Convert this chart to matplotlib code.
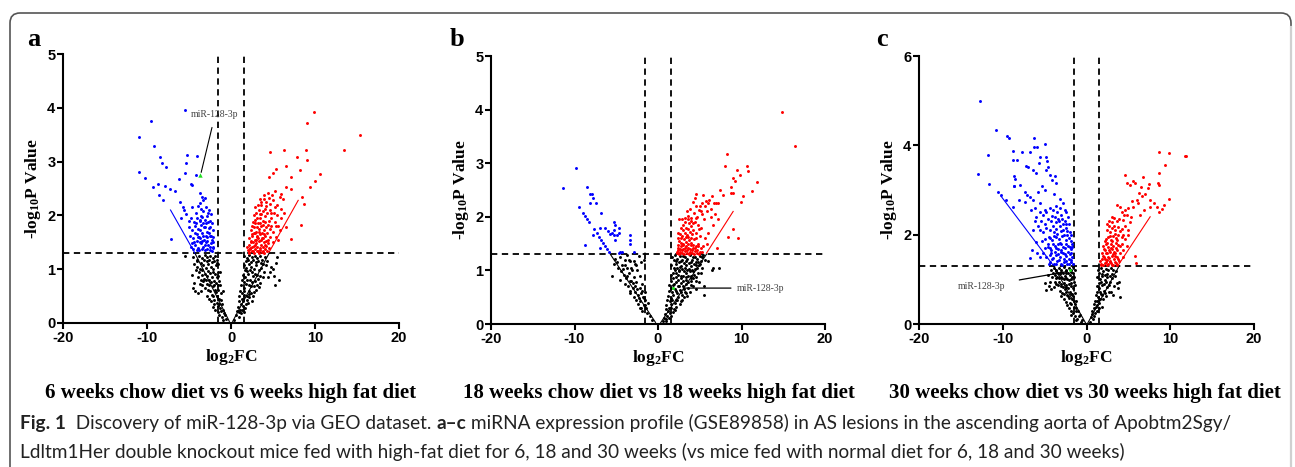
import numpy as np
import matplotlib
matplotlib.use("Agg")
import matplotlib.pyplot as plt
from matplotlib.patches import FancyBboxPatch

# -------------------------
# Data
# -------------------------
# Panel a: 6 weeks
a_blue = [(-5.5,3.95),(-9.55,3.76),(-11.0,3.46),(-9.2,3.29),(-10.9,2.81),(-8.4,3.08),(-8.2,2.98),(-7.7,2.90),
          (-10.2,2.69),(-5.2,3.12),(-4.1,3.11),(-5.3,2.97),(-6.25,2.67),(-5.45,2.79),(-4.8,2.59),(-4.2,2.75),
          (-4.65,2.56),(-9.3,2.53),(-8.7,2.58),(-7.9,2.55),(-7.3,2.50),(-6.7,2.46),(-8.55,2.38),(-8.1,2.28),
          (-6.1,2.25),(-5.7,2.16),(-3.7,2.41),(-3.5,2.34),(-3.3,2.28),(-3.1,2.32),(-3.7,2.23),(-7.1,1.57),
          (-5.6,2.1),(-5.4,2.02),(-5.9,1.95),(-5.0,1.9),(-4.6,2.15),(-4.2,2.05),(-3.9,2.18),(-3.6,2.12),
          (-3.3,2.08),(-3.0,2.15),(-2.6,2.1),(-2.4,2.02),(-4.8,1.95),(-4.4,1.88),(-4.0,1.95),(-3.7,1.9),
          (-3.4,1.97),(-3.1,1.92),(-2.8,1.98),(-2.5,1.9),(-2.3,1.85),(-5.0,1.78),(-4.6,1.72),(-4.3,1.8),
          (-3.9,1.75),(-3.6,1.82),(-3.2,1.78),(-2.9,1.7),(-2.6,1.76),(-2.2,1.72),(-4.9,1.62),(-4.5,1.58),
          (-4.1,1.65),(-3.8,1.6),(-3.5,1.67),(-3.2,1.55),(-2.8,1.6),(-2.5,1.62),(-2.3,1.55),(-2.1,1.6),
          (-4.7,1.48),(-4.3,1.45),(-4.0,1.52),(-3.6,1.48),(-3.3,1.42),(-3.0,1.5),(-2.7,1.45),(-2.4,1.48),
          (-2.2,1.42),(-4.5,1.38),(-3.8,1.36),(-3.4,1.38),(-3.1,1.35),(-2.8,1.37),(-2.5,1.36),(-2.3,1.34),
          (-3.95,1.4),(-3.7,1.72),(-2.95,1.85),(-2.7,2.05),(-3.55,1.98),(-4.8,1.42),(-4.4,1.5),(-4.1,1.35),
          (-3.75,1.5),(-3.45,1.52),(-3.15,1.45),(-2.85,1.52),(-2.55,1.42),(-2.35,1.62),(-2.65,1.68),
          (-2.95,1.62),(-3.35,1.62),(-3.65,1.58),(-3.95,1.6),(-4.25,1.68),(-2.45,1.78),(-2.75,1.88),
          (-3.05,1.78),(-3.35,1.85),(-3.65,1.92),(-4.15,1.85),(-2.2,1.4),(-2.15,1.5)]
a_red = [(9.9,3.93),(9.0,3.71),(15.4,3.49),(13.4,3.21),(8.9,3.21),(6.3,3.21),(4.7,3.18),(7.8,3.08),
         (9.0,3.03),(10.6,2.77),(10.0,2.64),(9.4,2.53),(8.2,2.85),(6.5,2.92),(5.4,2.87),(7.1,2.72),
         (5.0,2.78),(4.55,2.72),(6.6,2.53),(7.2,2.50),(8.4,2.34),(8.7,2.22),(8.3,1.82),(7.2,1.57),
         (5.6,1.54),(6.6,1.79),(6.0,2.4),(5.8,2.35),(6.2,2.3),(5.2,2.45),(4.9,2.38),(4.4,2.42),(3.9,2.3),
         (4.2,2.25),(3.6,2.2),(2.0,1.35),(2.3,1.38),(2.6,1.34),(2.9,1.37),(3.2,1.33),(3.5,1.36),(3.8,1.34),
         (4.1,1.37),(2.1,1.45),(2.4,1.5),(2.7,1.43),(3.0,1.48),(3.3,1.52),(3.6,1.45),(3.9,1.5),(4.2,1.44),
         (2.2,1.58),(2.5,1.62),(2.8,1.55),(3.1,1.6),(3.4,1.65),(3.7,1.58),(4.0,1.62),(4.4,1.55),(4.7,1.6),
         (2.4,1.72),(2.7,1.78),(3.0,1.7),(3.3,1.75),(3.6,1.8),(3.9,1.72),(4.2,1.78),(4.6,1.74),(5.0,1.7),
         (2.6,1.88),(2.9,1.92),(3.2,1.85),(3.5,1.95),(3.8,1.9),(4.1,1.98),(4.5,1.9),(4.8,1.95),(5.2,1.88),
         (3.0,2.05),(3.3,2.1),(3.6,2.02),(4.0,2.12),(4.3,2.05),(4.7,2.1),(5.1,2.05),(5.5,2.0),(3.2,2.2),
         (3.6,2.25),(4.6,2.22),(5.0,2.28),(5.5,2.2),(5.9,2.12),(1.9,1.42),(2.2,1.3),(3.45,1.4),(2.85,1.68),
         (4.5,1.4),(5.3,1.6),(5.6,1.8),(6.0,1.95),(5.8,1.72),(6.3,2.05),
         (2.15,1.32),(2.45,1.33),(2.75,1.31),(3.05,1.33),(3.35,1.31),(3.65,1.32),(3.95,1.31),(4.3,1.33),
         (2.25,1.4),(2.55,1.42),(2.85,1.45),(3.15,1.41),(3.75,1.41),(4.05,1.45),(4.35,1.48),(2.35,1.52),
         (2.65,1.5),(2.95,1.55),(3.25,1.58),(3.55,1.55),(3.85,1.58),(4.15,1.52),(2.45,1.65),(2.75,1.68),
         (3.05,1.62),(3.35,1.7),(3.65,1.68),(3.95,1.65),(4.3,1.68),(2.55,1.8),(2.85,1.85),(3.15,1.78),
         (3.45,1.85),(3.75,1.82),(4.05,1.88),(4.4,1.82),(2.75,2.0),(3.05,1.95),(3.4,2.02),(3.75,2.08),
         (4.2,2.18),(4.5,2.32),(3.9,2.38),(3.4,2.3),(2.9,2.15),(4.8,2.05),(5.2,2.15),(5.4,1.8),(5.0,1.5),
         (4.8,1.8)]
a_black = [(-4.5,1.22),(-4.1,1.18),(-3.8,1.25),(-3.4,1.2),(-3.1,1.27),(-2.8,1.22),(-2.5,1.25),(-2.2,1.2),
           (-1.9,1.24),(-1.7,1.18),(-5.5,1.25),(-4.6,0.9),(-4.5,0.65),(-3.6,0.6),(-4.0,1.05),(-3.7,1.0),
           (-3.3,1.08),(-3.0,1.02),(-2.7,1.1),(-2.4,1.05),(-2.1,1.0),(-1.8,1.08),(-3.9,0.85),(-3.5,0.9),
           (-3.2,0.82),(-2.9,0.88),(-2.6,0.8),(-2.3,0.86),(-2.0,0.78),(-1.7,0.85),(-3.4,0.7),(-3.1,0.65),
           (-2.8,0.72),(-2.5,0.6),(-2.2,0.68),(-1.9,0.62),(-1.6,0.7),(-2.9,0.5),(-2.6,0.45),(-2.3,0.52),
           (-2.0,0.42),(-1.7,0.5),(-1.4,0.45),(-2.2,0.3),(-1.9,0.25),(-1.6,0.32),(-1.3,0.28),(-1.1,0.35),
           (-1.4,0.15),(-1.1,0.12),(-0.8,0.18),(-0.6,0.08),(-0.9,0.05),(-4.25,0.6),(-4.4,0.75),(-3.95,0.55),
           (-1.55,1.1),(-1.5,0.95),
           (-4.0,1.15),(-3.6,1.12),(-3.2,1.17),(-2.9,1.15),(-2.6,1.18),(-2.3,1.13),(-2.0,1.16),(-1.7,1.12),
           (-3.8,0.95),(-3.4,0.98),(-3.1,0.92),(-2.75,0.96),(-2.45,0.93),(-2.15,0.95),(-1.85,0.92),
           (-1.6,0.88),(-3.3,0.78),(-2.95,0.8),(-2.65,0.7),(-2.35,0.76),(-2.05,0.7),(-1.75,0.74),(-1.45,0.78),
           (-2.7,0.62),(-2.4,0.4),(-2.1,0.5),(-1.8,0.58),(-1.5,0.62),(-1.25,0.55),(-2.0,0.35),(-1.7,0.38),
           (-1.4,0.36),(-1.15,0.42),(-1.6,0.2),(-1.25,0.22),(-0.95,0.25),(-0.7,0.15),(-4.2,0.98),(-4.4,1.1),
           (-3.75,0.72),(-3.55,0.8),(-1.3,0.95),(-1.35,0.7),(-1.0,0.6),
           (1.6,1.25),(1.9,1.2),(2.2,1.27),(2.5,1.22),(2.8,1.25),(3.1,1.2),(3.4,1.24),(3.7,1.18),(4.0,1.22),
           (4.3,1.15),(5.5,1.22),(5.1,0.88),(5.3,1.12),(4.8,1.05),(5.0,1.0),(1.5,1.08),(1.8,1.02),(2.1,1.1),
           (2.4,1.05),(2.7,1.0),(3.0,1.08),(3.3,0.98),(3.6,1.02),(3.9,0.95),(1.4,0.9),(1.7,0.85),(2.0,0.92),
           (2.3,0.8),(2.6,0.88),(2.9,0.78),(3.2,0.82),(3.5,0.75),(1.2,0.7),(1.5,0.65),(1.8,0.72),(2.1,0.6),
           (2.4,0.68),(2.7,0.58),(3.0,0.62),(1.0,0.5),(1.3,0.45),(1.6,0.52),(1.9,0.42),(2.2,0.48),(2.5,0.4),
           (0.8,0.3),(1.1,0.25),(1.4,0.32),(1.7,0.28),(0.6,0.15),(0.9,0.12),(1.2,0.18),(0.4,0.06),(4.6,0.95),
           (4.4,0.85),
           (1.75,1.15),(2.05,1.18),(2.35,1.14),(2.65,1.17),(2.95,1.13),(3.25,1.16),(3.55,1.12),(3.85,1.1),
           (4.15,1.08),(1.65,0.98),(1.95,0.97),(2.25,0.98),(2.55,0.95),(2.85,0.92),(3.15,0.9),(3.45,0.88),
           (3.75,0.85),(1.35,0.8),(1.6,0.76),(1.95,0.8),(2.2,0.7),(2.5,0.76),(2.75,0.68),(3.05,0.7),
           (3.35,0.66),(1.1,0.6),(1.35,0.55),(1.6,0.6),(1.85,0.5),(2.1,0.54),(2.4,0.56),(2.65,0.5),(0.9,0.4),
           (1.15,0.36),(1.45,0.4),(1.75,0.36),(2.05,0.38),(0.7,0.22),(1.0,0.2),(1.3,0.24),(1.55,0.2),
           (5.7,0.8),(5.2,0.7)]
a_green = [(-3.7, 2.75)]
a_blue_line = [(-7.2, 2.1), (-4.3, 1.3)]
a_red_line = [(4.55, 1.32), (8.0, 2.28)]
a_black_lines = [[(-4.3, 1.3), (-0.2, 0.03)], [(0.2, 0.03), (4.55, 1.3)]]

# Panel b: 18 weeks
b_blue = [(-9.87,2.91),(-11.4,2.53),(-8.5,2.55),(-8.2,2.43),(-7.9,2.42),(-7.8,2.35),(-8.2,2.26),(-7.4,2.26),
          (-9.5,2.19),(-9.0,2.08),(-8.7,2.01),(-8.5,1.96),(-8.3,1.91),(-6.8,2.08),(-7.7,1.78),(-7.8,1.66),
          (-8.8,1.48),(-7.3,1.69),(-7.1,1.62),(-6.8,1.57),(-6.6,1.51),(-6.4,1.46),(-6.1,1.40),(-5.9,1.35),
          (-6.9,1.41),(-5.3,1.90),(-5.2,1.85),(-4.7,1.80),(-5.3,1.75),(-6.0,1.73),(-5.8,1.68),(-5.5,1.70),
          (-5.3,1.66),(-4.9,1.66),(-4.7,1.70),(-5.2,1.57),(-3.4,1.66),(-3.4,1.57),(-3.3,1.49),(-4.7,1.32),
          (-4.5,1.34),(-4.3,1.34),(-2.85,1.35),(-6.3,1.79),(-7.0,1.80)]
b_red = [(14.8,3.95),(16.4,3.32),(8.3,3.17),(8.0,2.94),(10.7,2.95),(10.8,2.86),(9.5,2.87),(9.8,2.78),
         (9.0,2.72),(9.2,2.66),(8.8,2.56),(11.9,2.64),(11.2,2.48),(8.8,2.44),(9.0,2.44),(7.8,2.41),
         (9.9,2.28),(10.2,2.38),(7.4,2.5),(7.2,2.26),(7.0,2.26),(6.7,2.26),(9.0,1.78),(9.6,1.6),(8.4,1.63),
         (7.1,1.42),(6.5,2.38),(6.1,2.32),(5.7,2.3),(5.4,2.4),(4.6,2.42),(5.0,2.2),(6.3,2.15),(6.8,2.05),
         (7.2,1.95),(5.9,2.1),(2.3,1.32),(2.6,1.35),(2.9,1.33),(3.2,1.36),(3.5,1.32),(3.8,1.35),(4.1,1.33),
         (4.4,1.36),(4.7,1.32),(5.0,1.34),(2.4,1.42),(2.7,1.45),(3.0,1.4),(3.3,1.46),(3.6,1.42),(3.9,1.47),
         (4.2,1.41),(4.5,1.45),(2.5,1.55),(2.8,1.52),(3.1,1.58),(3.4,1.53),(3.7,1.56),(4.0,1.52),(4.3,1.58),
         (4.8,1.5),(2.6,1.68),(2.9,1.65),(3.2,1.7),(3.5,1.66),(3.8,1.72),(4.1,1.68),(4.6,1.7),(5.0,1.65),
         (2.7,1.8),(3.0,1.85),(3.4,1.8),(3.7,1.88),(4.0,1.82),(4.4,1.9),(4.8,1.85),(5.2,1.8),(3.2,1.98),
         (3.6,2.02),(4.0,1.98),(4.3,2.08),(4.7,2.0),(5.1,2.1),(5.5,1.95),(3.8,2.15),(4.5,2.2),(5.3,2.25),
         (4.2,2.28),(5.6,1.6),(5.4,1.45),(5.9,1.5),(2.45,1.38),(3.05,1.5),(3.65,1.62),(2.35,1.6),(2.55,1.95),
         (2.25,1.35),(2.55,1.31),(2.85,1.38),(3.15,1.31),(3.45,1.38),(3.75,1.31),(4.05,1.38),(4.35,1.31),
         (4.65,1.38),(4.95,1.31),(5.25,1.34),(2.35,1.48),(2.65,1.4),(2.95,1.47),(3.25,1.42),(3.55,1.49),
         (3.85,1.4),(4.15,1.48),(4.45,1.42),(4.75,1.45),(5.1,1.42),(2.45,1.7),(2.75,1.6),(3.05,1.75),
         (3.35,1.62),(3.65,1.78),(3.95,1.6),(4.25,1.75),(4.55,1.6),(4.95,1.78),(2.85,1.95),(3.25,1.9),
         (3.55,1.95),(3.9,1.92),(4.2,1.88),(4.55,1.98),(4.9,2.12),(5.3,2.05),(5.6,2.2),(6.0,2.25),(6.3,2.0),
         (6.6,1.85),(4.4,2.35),(3.5,2.1),(6.0,1.7)]
b_black = [(-5.5,0.9),(-5.2,1.22),(-4.9,1.15),(-4.6,1.25),(-4.3,1.1),(-4.0,1.2),(-3.7,1.05),(-3.4,1.18),
           (-3.1,1.0),(-2.8,1.12),(-4.8,1.05),(-4.4,0.98),(-4.1,0.92),(-3.8,0.85),(-3.5,0.95),(-3.2,0.8),
           (-2.9,0.88),(-2.6,0.78),(-3.9,0.75),(-3.6,0.7),(-3.3,0.62),(-3.0,0.68),(-2.7,0.6),(-2.4,0.55),
           (-3.3,0.57),(-2.9,0.5),(-2.6,0.45),(-2.3,0.48),(-2.1,0.42),(-1.8,0.5),(-2.2,0.3),(-1.9,0.25),
           (-1.6,0.35),(-1.3,0.2),(-1.0,0.15),(-0.7,0.08),(-2.0,0.58),(-1.7,0.48),(-4.5,0.82),(-2.5,1.0),
           (-2.2,0.9),(-1.9,0.75),(-1.6,0.6),(-3.7,1.28),(-2.3,1.27),
           (-5.3,1.12),(-4.2,1.02),(-3.9,1.1),(-3.5,1.2),(-3.2,1.05),(-2.9,1.18),(-2.6,1.1),(-2.0,1.15),
           (-1.7,1.2),(-3.7,0.9),(-3.4,0.8),(-3.0,0.76),(-2.8,0.7),(-2.5,0.65),(-2.2,0.68),(-1.9,0.62),
           (-2.4,0.38),(-2.0,0.3),(-1.7,0.35),(-1.4,0.3),(-1.2,0.4),(-1.5,0.45),
           (1.7,1.25),(2.0,1.28),(2.3,1.22),(2.6,1.27),(2.9,1.2),(3.2,1.25),(3.5,1.22),(3.8,1.28),(4.1,1.2),
           (4.4,1.25),(4.7,1.22),(5.0,1.27),(5.3,1.25),(6.6,1.04),(7.3,1.04),(6.5,1.0),(5.2,0.95),(5.5,0.7),
           (5.5,0.55),(4.9,0.78),(4.5,1.1),(4.8,1.15),(1.6,1.1),(1.9,1.05),(2.2,1.12),(2.5,1.0),(2.8,1.08),
           (3.1,0.98),(3.4,1.1),(3.7,1.02),(4.0,1.08),(4.2,0.98),(1.5,0.92),(1.8,0.85),(2.1,0.95),(2.4,0.82),
           (2.7,0.9),(3.0,0.8),(3.3,0.88),(3.6,0.78),(3.9,0.85),(1.3,0.72),(1.6,0.68),(1.9,0.75),(2.2,0.62),
           (2.5,0.7),(2.8,0.6),(3.1,0.66),(3.4,0.58),(1.2,0.52),(1.5,0.48),(1.8,0.55),(2.1,0.45),(2.4,0.5),
           (2.7,0.42),(1.0,0.35),(1.3,0.3),(1.6,0.38),(1.9,0.28),(2.2,0.32),(0.8,0.18),(1.1,0.15),(1.4,0.2),
           (0.6,0.06),(0.9,0.05),(4.3,0.92),(4.6,0.88),(5.0,1.12),(5.6,1.2),(6.0,1.18),
           (2.2,1.18),(2.5,1.15),(2.8,1.18),(3.1,1.14),(3.4,1.17),(3.7,1.13),(4.0,1.16),(4.3,1.12),(4.6,1.15),
           (4.9,1.1),(5.2,1.18),(2.0,1.0),(2.3,1.04),(2.6,1.07),(2.9,1.02),(3.2,1.05),(3.5,1.0),(3.8,0.98),
           (4.1,1.0),(4.4,1.02),(4.7,1.05),(1.8,0.95),(2.1,0.88),(2.4,0.92),(2.7,0.86),(3.0,0.9),(3.3,0.83),
           (3.6,0.9),(3.9,0.8),(4.2,0.85),(4.5,0.8),(1.5,0.8),(1.8,0.72),(2.1,0.78),(2.4,0.7),(2.7,0.76),
           (3.0,0.7),(3.3,0.74),(3.6,0.68),(3.9,0.72),(4.2,0.7),(1.35,0.62),(1.65,0.6),(2.0,0.65),(2.3,0.58),
           (2.6,0.64),(2.9,0.55),(3.2,0.6),(3.5,0.52),(3.8,0.6),(1.1,0.45),(1.4,0.42),(1.7,0.45),(2.0,0.4),
           (2.3,0.44),(2.6,0.38),(2.9,0.45),(3.1,0.5),(0.9,0.28),(1.2,0.25),(1.5,0.3),(1.8,0.22),(2.0,0.26),
           (0.75,0.12),(1.0,0.1),(1.3,0.12),(1.6,0.15),(4.0,0.9),(4.5,0.65),(4.8,0.95),(5.3,1.05),(3.4,0.95),
           (2.55,0.98),(1.95,1.2),(4.15,1.25),(3.05,1.26),(5.4,1.28)]
b_green = [(1.8, 0.67)]
b_blue_line = []
b_red_line = [(5.8, 1.32), (9.0, 2.1)]
b_black_lines = [[(-5.7, 1.3), (-0.3, 0.03)], [(0.3, 0.02), (5.8, 1.3)]]

# Panel c: 30 weeks
c_blue = [(-12.7,5.0),(-10.75,4.34),(-9.5,4.2),(-9.25,4.16),(-11.8,3.79),(-13.0,3.36),(-11.6,3.13),
          (-10.6,2.96),(-10.2,2.88),(-9.6,2.78),(-8.8,2.63),(-8.8,3.87),(-7.7,3.85),(-8.3,3.67),(-8.8,3.67),
          (-6.3,4.16),(-6.3,3.97),(-5.0,4.04),(-5.9,3.97),(-6.8,3.84),(-5.6,3.74),(-4.8,3.75),(-4.7,3.64),
          (-5.7,3.6),(-7.0,3.52),(-7.25,3.54),(-6.4,3.45),(-6.0,3.37),(-4.8,3.45),(-4.6,3.52),(-4.4,3.33),
          (-3.8,3.31),(-4.1,3.22),(-8.6,3.31),(-8.5,3.24),(-8.0,3.12),(-8.7,3.1),(-7.4,2.96),(-7.1,2.89),
          (-8.6,3.09),(-6.8,2.85),(-6.4,2.78),(-7.4,2.74),(-8.1,2.78),(-6.5,1.66),(-6.8,1.47),(-6.0,1.84),
          (-6.4,2.1),(-6.6,2.55),(-6.2,2.6),(-5.8,2.95),(-5.3,3.1),(-5.5,2.7),(-3.6,3.15),(-3.2,2.8),
          (-3.9,2.9),(-4.9,3.0),(-5.0,2.55),(-5.2,2.45),(-4.8,2.5),(-4.4,2.6),(-4.0,2.55),(-3.6,2.65),
          (-3.2,2.6),(-2.8,2.7),(-2.4,2.5),(-5.4,2.3),(-5.0,2.25),(-4.6,2.35),(-4.2,2.3),(-3.8,2.4),
          (-3.4,2.35),(-3.0,2.45),(-2.6,2.3),(-2.2,2.4),(-5.6,2.1),(-5.2,2.05),(-4.8,2.15),(-4.4,2.1),
          (-4.0,2.2),(-3.6,2.12),(-3.2,2.2),(-2.8,2.1),(-2.4,2.15),(-2.0,2.05),(-5.3,1.85),(-4.9,1.9),
          (-4.5,1.95),(-4.1,1.88),(-3.7,1.95),(-3.3,1.9),(-2.9,1.98),(-2.5,1.88),(-2.1,1.92),(-1.8,1.85),
          (-5.0,1.7),(-4.6,1.72),(-4.2,1.65),(-3.8,1.75),(-3.4,1.68),(-3.0,1.78),(-2.6,1.7),(-2.2,1.75),
          (-1.9,1.68),(-4.8,1.5),(-4.4,1.55),(-4.0,1.48),(-3.6,1.55),(-3.2,1.5),(-2.8,1.58),(-2.4,1.52),
          (-2.0,1.56),(-1.7,1.5),(-4.3,1.38),(-3.9,1.35),(-3.5,1.4),(-3.1,1.35),(-2.7,1.38),(-2.3,1.34),
          (-1.9,1.38),(-1.65,1.34),(-3.05,1.62),(-2.65,1.45),(-3.45,1.8),(-2.35,2.0),(-2.75,2.25),
          (-3.85,2.05),(-4.55,1.8),(-1.75,1.72),(-2.05,1.45),
          (-4.5,1.35),(-4.1,1.45),(-3.7,1.34),(-3.3,1.44),(-2.9,1.33),(-2.5,1.42),(-2.1,1.35),(-1.8,1.44),
          (-4.2,1.58),(-3.8,1.62),(-3.4,1.56),(-3.0,1.66),(-2.6,1.56),(-2.2,1.62),(-1.85,1.58),(-4.4,1.7),
          (-4.0,1.78),(-3.6,1.7),(-3.2,1.82),(-2.8,1.72),(-2.4,1.8),(-2.0,1.72),(-1.7,1.8),(-4.3,1.92),
          (-3.9,1.98),(-3.5,2.02),(-3.1,2.08),(-2.7,2.0),(-2.3,2.08),(-1.9,2.0),(-3.3,2.3),(-2.9,2.35),
          (-2.5,2.25),(-2.1,2.25),(-3.7,2.28),(-4.1,2.42),(-3.5,2.5),(-2.6,2.55),(-6.0,2.4),(-5.6,2.5),
          (-5.8,2.2),(-6.2,2.3),(-5.9,1.6),(-5.5,1.5),(-5.2,1.6)]
c_red = [(11.9,3.76),(11.8,3.77),(9.8,3.82),(8.65,3.85),(9.4,3.56),(8.65,3.37),(8.5,3.16),(8.7,3.11),
         (7.5,3.13),(7.3,3.04),(6.7,3.28),(4.6,3.34),(5.5,3.21),(4.8,3.15),(5.2,3.11),(5.8,3.15),(6.5,3.07),
         (6.3,2.94),(6.6,2.87),(7.0,2.9),(7.6,2.78),(7.6,2.63),(8.0,2.7),(8.4,2.63),(9.8,2.8),(9.2,2.66),
         (9.0,2.57),(8.7,2.51),(6.0,2.78),(6.2,2.7),(5.6,2.63),(3.6,2.66),(4.6,2.56),(4.8,2.45),(5.8,1.52),
         (5.9,1.36),(6.4,2.45),(6.9,2.55),(5.3,2.4),(4.2,2.5),(3.3,2.38),(2.7,2.3),(3.0,2.4),
         (1.7,1.35),(2.0,1.32),(2.3,1.38),(2.6,1.34),(2.9,1.36),(3.2,1.33),(3.5,1.37),(1.8,1.45),(2.1,1.5),
         (2.4,1.43),(2.7,1.48),(3.0,1.52),(3.3,1.45),(3.6,1.5),(1.9,1.6),(2.2,1.65),(2.5,1.58),(2.8,1.62),
         (3.1,1.68),(3.4,1.6),(3.7,1.66),(4.0,1.58),(2.0,1.75),(2.3,1.78),(2.6,1.72),(2.9,1.8),(3.2,1.75),
         (3.5,1.82),(3.8,1.76),(4.2,1.8),(2.3,1.9),(2.6,1.95),(2.9,1.88),(3.2,1.98),(3.5,1.92),(3.8,2.0),
         (4.2,1.95),(4.6,1.9),(2.5,2.1),(2.8,2.05),(3.1,2.15),(3.4,2.1),(3.8,2.18),(4.2,2.12),(4.6,2.2),
         (5.0,2.1),(2.4,2.25),(3.0,2.28),(3.6,2.3),(4.4,2.32),(5.2,2.28),(4.4,1.65),(4.8,1.75),(1.6,1.42),
         (3.9,1.42),(4.3,1.5),
         (1.75,1.31),(2.15,1.36),(2.45,1.31),(2.75,1.39),(3.05,1.31),(3.35,1.39),(3.65,1.31),(1.95,1.52),
         (2.25,1.45),(2.55,1.5),(2.85,1.42),(3.15,1.56),(3.45,1.52),(3.75,1.45),(2.05,1.68),(2.35,1.6),
         (2.65,1.66),(2.95,1.7),(3.25,1.62),(3.55,1.7),(3.95,1.74),(2.2,1.85),(2.5,1.82),(2.8,1.96),
         (3.1,1.86),(3.4,2.02),(3.7,1.88),(4.0,2.08),(4.4,2.0),(2.65,2.2),(3.25,2.2),(3.85,2.35),(4.5,2.45),
         (5.0,2.6),(5.4,2.75),(4.0,2.62),(5.0,2.0)]
c_black = [(-4.2,1.22),(-3.9,1.26),(-3.6,1.2),(-3.3,1.25),(-3.0,1.22),(-2.7,1.27),(-2.4,1.2),(-2.1,1.25),
           (-1.8,1.22),(-1.6,1.27),(-5.0,0.91),(-4.8,0.76),(-4.5,0.85),(-4.2,0.78),(-4.4,0.95),(-3.8,1.1),
           (-3.5,1.05),(-3.2,1.12),(-2.9,1.02),(-2.6,1.08),(-2.3,1.0),(-2.0,1.1),(-1.7,1.05),(-3.6,0.9),
           (-3.3,0.95),(-3.0,0.85),(-2.7,0.92),(-2.4,0.82),(-2.1,0.9),(-1.8,0.85),(-1.55,0.95),(-3.2,0.75),
           (-2.9,0.7),(-2.6,0.78),(-2.3,0.65),(-2.0,0.72),(-1.7,0.68),(-2.7,0.55),(-2.4,0.5),(-2.1,0.58),
           (-1.8,0.45),(-1.5,0.52),(-2.1,0.35),(-1.8,0.3),(-1.5,0.38),(-1.2,0.28),(-1.4,0.18),(-1.1,0.12),
           (-0.8,0.2),(-0.5,0.08),(-0.7,0.05),(-3.9,0.82),(-4.1,1.05),(-1.6,1.15),(-2.5,1.15),
           (-4.0,1.15),(-3.7,1.18),(-3.4,1.15),(-3.1,1.17),(-2.8,1.14),(-2.5,1.18),(-2.2,1.14),(-1.9,1.16),
           (-3.6,1.02),(-3.3,1.03),(-3.0,1.06),(-2.7,1.0),(-2.4,1.04),(-2.1,0.98),(-1.8,1.0),(-1.5,1.05),
           (-3.4,0.88),(-3.1,0.9),(-2.8,0.82),(-2.5,0.88),(-2.2,0.8),(-1.9,0.92),(-1.6,0.8),(-3.0,0.62),
           (-2.7,0.68),(-2.5,0.72),(-2.2,0.62),(-1.9,0.68),(-1.6,0.62),(-1.35,0.7),(-2.3,0.42),(-2.0,0.48),
           (-1.7,0.55),(-1.4,0.45),(-1.2,0.52),(-1.9,0.2),(-1.6,0.25),(-1.3,0.35),(-1.0,0.3),(-0.9,0.18),
           (-1.25,0.1),(-4.6,1.1),(-3.8,0.95),(-1.35,0.88),(-1.4,1.2),
           (1.4,1.2),(1.7,1.25),(2.0,1.18),(2.3,1.24),(2.6,1.2),(2.9,1.26),(3.2,1.22),(3.5,1.18),(3.6,0.91),
           (3.8,0.8),(4.0,0.6),(3.3,0.85),(1.3,1.05),(1.6,1.0),(1.9,1.08),(2.2,0.98),(2.5,1.05),(2.8,0.95),
           (3.1,1.02),(1.2,0.85),(1.5,0.8),(1.8,0.88),(2.1,0.75),(2.4,0.82),(2.7,0.72),(1.1,0.65),(1.4,0.6),
           (1.7,0.68),(2.0,0.55),(2.3,0.62),(0.9,0.45),(1.2,0.42),(1.5,0.48),(1.8,0.38),(0.7,0.3),(1.0,0.25),
           (1.3,0.3),(0.5,0.15),(0.8,0.12),(0.4,0.05),(2.9,0.72),(3.2,0.65),
           (1.55,1.15),(1.85,1.12),(2.15,1.1),(2.45,1.13),(2.75,1.08),(3.05,1.12),(3.35,1.08),(1.45,0.92),
           (1.75,0.95),(2.05,0.9),(2.35,0.94),(2.65,0.88),(1.3,0.72),(1.6,0.72),(1.9,0.66),(2.2,0.7),
           (1.0,0.52),(1.3,0.52),(1.6,0.55),(0.85,0.35),(1.15,0.38),(1.45,0.35),(0.65,0.22),(0.95,0.18),
           (3.9,0.95)]
c_green = [(-2.0, 1.2)]
c_blue_line = [(-10.2, 2.86), (-4.0, 1.32)]
c_red_line = [(3.8, 1.32), (7.6, 2.4)]
c_black_lines = [[(-4.0, 1.32), (-0.1, 0.02)], [(0.15, 0.02), (3.9, 1.3)]]

# thresholds
FC_CUT = 1.5
P_CUT = 1.3

subtitles = ["6 weeks chow diet vs 6 weeks high fat diet",
             "18 weeks chow diet vs 18 weeks high fat diet",
             "30 weeks chow diet vs 30 weeks high fat diet"]
panel_letters = ["a", "b", "c"]
x_ticks = [-20, -10, 0, 10, 20]
y_ticks_ab = [0, 1, 2, 3, 4, 5]
y_ticks_c = [0, 2, 4, 6]

# -------------------------
# Layout helpers (pixel -> figure fraction)
# -------------------------
W, H = 1295, 467
plt.rcParams["axes.unicode_minus"] = False
plt.rcParams["mathtext.fontset"] = "custom"
plt.rcParams["mathtext.rm"] = "Liberation Serif"
plt.rcParams["mathtext.bf"] = "Liberation Serif:bold"
plt.rcParams["mathtext.it"] = "Liberation Serif:italic"

fig = plt.figure(figsize=(W / 100, H / 100), dpi=100)


def fx(px):
    return px / W


def fy(py):
    return 1 - py / H


def axes_box(left, right, top, bottom):
    return [fx(left), fy(bottom), fx(right) - fx(left), fy(top) - fy(bottom)]


SERIF = ["Liberation Serif", "DejaVu Serif"]
SANS = ["Liberation Sans", "DejaVu Sans"]


def draw_panel(ax, blue, red, black, blue_line, red_line, black_lines, ymax, yticks):
    for seg in black_lines:
        s = np.array(seg)
        ax.plot(s[:, 0], s[:, 1], color="black", lw=0.8, zorder=2)
    if blue_line:
        s = np.array(blue_line)
        ax.plot(s[:, 0], s[:, 1], color="blue", lw=0.8, zorder=2)
    if red_line:
        s = np.array(red_line)
        ax.plot(s[:, 0], s[:, 1], color="red", lw=0.8, zorder=2)
    for pts, col in [(black, "black"), (blue, "blue"), (red, "red")]:
        p = np.array(pts)
        ax.scatter(p[:, 0], p[:, 1], s=4.5, color=col, linewidths=0, zorder=3)

    dash = (0, (3.5, 2.5))
    ax.axhline(P_CUT, color="black", lw=1.3, ls=dash, zorder=1)
    ax.axvline(-FC_CUT, color="black", lw=1.3, ls=dash, zorder=1)
    ax.axvline(FC_CUT, color="black", lw=1.3, ls=dash, zorder=1)

    ax.set_xlim(-20, 20)
    ax.set_ylim(0, ymax)
    ax.set_xticks(x_ticks)
    ax.set_yticks(yticks)
    for side in ["top", "right"]:
        ax.spines[side].set_visible(False)
    for side in ["left", "bottom"]:
        ax.spines[side].set_linewidth(1.5)
    ax.tick_params(direction="out", length=4, width=1.5, pad=1.5)
    for lab in ax.get_xticklabels() + ax.get_yticklabels():
        lab.set_fontfamily(SANS)
        lab.set_fontweight("bold")
        lab.set_fontsize(10.5)
    ax.set_xlabel(r"log$_{\mathbf{2}}$FC", fontsize=12.5, fontweight="bold", family=SERIF, labelpad=2)
    ax.set_ylabel(r"-log$_{\mathbf{10}}$P Value", fontsize=12.5, fontweight="bold", family=SERIF, labelpad=3)
    ax.patch.set_alpha(0)


ax_a = fig.add_axes(axes_box(63, 399, 54, 323))
ax_b = fig.add_axes(axes_box(491, 825, 56, 324))
ax_c = fig.add_axes(axes_box(919, 1254, 56, 324))

draw_panel(ax_a, a_blue, a_red, a_black, a_blue_line, a_red_line, a_black_lines, 5, y_ticks_ab)
draw_panel(ax_b, b_blue, b_red, b_black, b_blue_line, b_red_line, b_black_lines, 5, y_ticks_ab)
draw_panel(ax_c, c_blue, c_red, c_black, c_blue_line, c_red_line, c_black_lines, 6, y_ticks_c)

# miR-128-3p markers and labels
g = np.array(a_green)
ax_a.scatter(g[:, 0], g[:, 1], marker="^", s=10, color="#22dd22", linewidths=0, zorder=4)
ax_a.annotate("miR-128-3p", xy=(g[0, 0] + 0.15, g[0, 1] + 0.05), xytext=(-1.9, 3.87),
              ha="center", va="center", fontsize=7, family=SERIF, color="#444444",
              arrowprops=dict(arrowstyle="-", color="black", lw=0.8, shrinkA=4, shrinkB=0))
g = np.array(b_green)
ax_b.scatter(g[:, 0], g[:, 1], s=5, color="#22dd22", linewidths=0, zorder=4)
ax_b.annotate("miR-128-3p", xy=(3.05, 0.67), xytext=(9.4, 0.67),
              ha="left", va="center", fontsize=7, family=SERIF, color="#444444",
              arrowprops=dict(arrowstyle="-", color="black", lw=0.9, shrinkA=2, shrinkB=0))
g = np.array(c_green)
ax_c.scatter(g[:, 0], g[:, 1], s=5, color="#22dd22", linewidths=0, zorder=4)
ax_c.annotate("miR-128-3p", xy=(-2.4, 1.17), xytext=(-12.5, 0.84),
              ha="center", va="center", fontsize=7, family=SERIF, color="#444444",
              arrowprops=dict(arrowstyle="-", color="black", lw=0.9, shrinkA=8, shrinkB=0))

# -------------------------
# Text: letters, subtitles, caption
# -------------------------
overlay = fig.add_axes([0, 0, 1, 1])
overlay.axis("off")
overlay.set_xlim(0, 1)
overlay.set_ylim(0, 1)

for lx, letter in zip([34, 457, 882], panel_letters):
    overlay.text(fx(lx), fy(46), letter, ha="center", va="baseline", fontsize=19,
                 fontweight="bold", family=SERIF)

for sx, sub in zip([231, 659, 1085], subtitles):
    overlay.text(fx(sx), fy(393), sub, ha="center", va="center", fontsize=15,
                 fontweight="bold", family=SERIF)

CAP_FONT = ["Lato", "DejaVu Sans"]
CAP_SIZE = 13.7
pieces = [("Fig. 1", "bold"), ("  Discovery of miR-128-3p via GEO dataset. ", "normal"),
          ("a\u2013c", "bold"),
          (" miRNA expression profile (GSE89858) in AS lesions in the ascending aorta of Apobtm2Sgy/", "normal")]
prev = overlay.text(fx(20), fy(432), pieces[0][0], ha="left", va="bottom", fontsize=CAP_SIZE,
                    fontweight=pieces[0][1], family=CAP_FONT, color="#222222")
for txt, wt in pieces[1:]:
    prev = overlay.annotate(txt, xy=(1, 0), xycoords=prev, ha="left", va="bottom",
                            fontsize=CAP_SIZE, fontweight=wt, family=CAP_FONT, color="#222222")
overlay.text(fx(20), fy(461), "Ldltm1Her double knockout mice fed with high-fat diet for 6, 18 and 30 weeks "
             "(vs mice fed with normal diet for 6, 18 and 30 weeks)", ha="left", va="bottom",
             fontsize=CAP_SIZE, family=CAP_FONT, color="#222222")

# rounded frame around the figure panel
frame = FancyBboxPatch((0.10, -0.6), 12.81, 4.54 + 0.6, boxstyle="round,pad=0,rounding_size=0.1",
                       transform=fig.dpi_scale_trans, fill=False, edgecolor="#555555", lw=1.2)
overlay.add_patch(frame)
overlay.plot([12.91, 12.91], [-0.1, 4.40], transform=fig.dpi_scale_trans, color="#d0d0d0", lw=1.6)

fig.savefig("out.png", dpi=100)
